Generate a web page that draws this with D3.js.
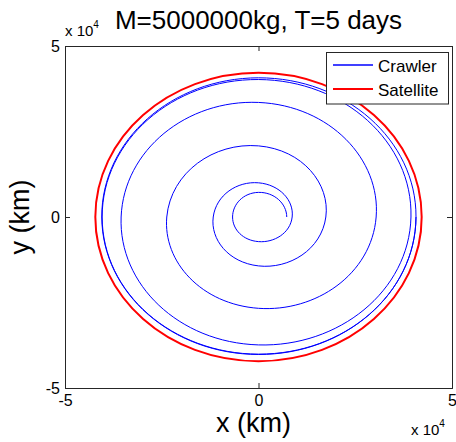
<!DOCTYPE html>
<html>
<head>
<meta charset="utf-8">
<script src="https://cdn.jsdelivr.net/npm/d3@7"></script>
<style>
  body { margin: 0; background: #fff; }
  svg { display: block; }
  text { font-family: "Liberation Sans", Arial, Helvetica, sans-serif; fill: #000; }
</style>
</head>
<body>
<svg id="chart" width="456" height="442"></svg>
<script>
// Axis limits and ticks (km)
const xDomain = [-50000, 50000];
const yDomain = [-50000, 50000];
const xTickValues = [-50000, 0, 50000];
const yTickValues = [-50000, 0, 50000];
const xTickLabels = ["-5", "0", "5"];
const yTickLabels = ["-5", "0", "5"];

// Crawler track: polar samples every quarter turn (angle in degrees, radius in km)
const crawlerAngleDeg = [0, 90, 180, 270, 360, 450, 540, 630, 720, 810, 900, 990,
  1080, 1170, 1260, 1350, 1440, 1530, 1620, 1710, 1800, 1890, 1980, 2070, 2160];
const crawlerRadiusKm = [7300, 7200, 6700, 7200, 8700, 10000, 11700, 14300, 17400, 20800, 23700, 26700,
  30400, 33500, 35500, 37400, 39400, 40200, 40400, 40100, 40700, 40700, 40500, 40200, 40700];

// Satellite orbit: geostationary circle
const satelliteAngleDeg = [0, 90, 180, 270];
const satelliteRadiusKm = [42164, 42164, 42164, 42164];

const seriesNames = ["Crawler", "Satellite"];
const seriesColors = ["#0000ff", "#ff0000"];

const titleText = "M=5000000kg, T=5 days";
const xLabelText = "x (km)";
const yLabelText = "y (km)";

const svg = d3.select("#chart");
const plot = { left: 65, right: 452, top: 46, bottom: 388 };

const x = d3.scaleLinear().domain(xDomain).range([plot.left, plot.right]);
const y = d3.scaleLinear().domain(yDomain).range([plot.bottom, plot.top]);

// Polar Hermite curve: each sample carries its own tangent (radial growth + rotation),
// joined by cubic Béziers mapped through the x/y scales.
function polarPath(anglesDeg, radii, closed) {
  const n = anglesDeg.length;
  const th = anglesDeg.map(a => a * Math.PI / 180);
  const span = closed ? 2 * Math.PI : 0;
  const thAt = i => closed ? th[(i + n) % n] + Math.floor(i / n) * span : th[i];
  const rAt = i => closed ? radii[(i + n) % n] : radii[i];
  const dr = i => {
    if (closed) return (rAt(i + 1) - rAt(i - 1)) / (thAt(i + 1) - thAt(i - 1));
    if (i === 0) return (radii[1] - radii[0]) / (th[1] - th[0]);
    if (i === n - 1) return (radii[n - 1] - radii[n - 2]) / (th[n - 1] - th[n - 2]);
    return (radii[i + 1] - radii[i - 1]) / (th[i + 1] - th[i - 1]);
  };
  const pt = i => [rAt(i) * Math.cos(thAt(i)), rAt(i) * Math.sin(thAt(i))];
  const deriv = i => {
    const t = thAt(i), r = rAt(i), d = dr(i);
    return [d * Math.cos(t) - r * Math.sin(t), d * Math.sin(t) + r * Math.cos(t)];
  };
  const p = d3.path();
  const segs = closed ? n : n - 1;
  const p0 = pt(0);
  p.moveTo(x(p0[0]), y(p0[1]));
  for (let i = 0; i < segs; i++) {
    const a = pt(i), b = pt(i + 1);
    const da = deriv(i), db = deriv(i + 1);
    const dth = thAt(i + 1) - thAt(i);
    const k = (4 / 3) * Math.tan(dth / 4);
    p.bezierCurveTo(
      x(a[0] + k * da[0]), y(a[1] + k * da[1]),
      x(b[0] - k * db[0]), y(b[1] - k * db[1]),
      x(b[0]), y(b[1]));
  }
  if (closed) p.closePath();
  return p.toString();
}

svg.append("clipPath").attr("id", "plotClip").append("rect")
  .attr("x", plot.left).attr("y", plot.top)
  .attr("width", plot.right - plot.left).attr("height", plot.bottom - plot.top);

const g = svg.append("g").attr("clip-path", "url(#plotClip)");

g.append("path")
  .attr("d", polarPath(satelliteAngleDeg, satelliteRadiusKm, true))
  .attr("fill", "none").attr("stroke", seriesColors[1]).attr("stroke-width", 2);

g.append("path")
  .attr("d", polarPath(crawlerAngleDeg, crawlerRadiusKm, false))
  .attr("fill", "none").attr("stroke", seriesColors[0]).attr("stroke-width", 1);

// Axes with inward ticks
const fmtX = d => xTickLabels[xTickValues.indexOf(d)];
const fmtY = d => yTickLabels[yTickValues.indexOf(d)];

const axBottom = svg.append("g").attr("transform", `translate(0,${plot.bottom})`)
  .call(d3.axisBottom(x).tickValues(xTickValues).tickFormat(fmtX).tickSize(-5).tickPadding(7));
const axLeft = svg.append("g").attr("transform", `translate(${plot.left},0)`)
  .call(d3.axisLeft(y).tickValues(yTickValues).tickFormat(fmtY).tickSize(-5).tickPadding(5));
const axTop = svg.append("g").attr("transform", `translate(0,${plot.top})`)
  .call(d3.axisTop(x).tickValues(xTickValues).tickFormat("").tickSize(-5));
const axRight = svg.append("g").attr("transform", `translate(${plot.right},0)`)
  .call(d3.axisRight(y).tickValues(yTickValues).tickFormat("").tickSize(-5));

[axBottom, axLeft, axTop, axRight].forEach(a => {
  a.select(".domain").attr("stroke", "#262626").attr("stroke-width", 1);
  a.selectAll(".tick line").attr("stroke", "#262626");
  a.selectAll(".tick text").attr("font-size", 16)
    .attr("font-family", "Liberation Sans, Arial, sans-serif").attr("fill", "#000");
});

// Exponent multipliers
const expTop = svg.append("text").attr("x", 65).attr("y", 36).attr("font-size", 15);
expTop.append("tspan").text("x 10");
expTop.append("tspan").attr("font-size", 10).attr("dy", -8).text("4");

const expBottom = svg.append("text").attr("x", 411).attr("y", 435).attr("font-size", 15);
expBottom.append("tspan").text("x 10");
expBottom.append("tspan").attr("font-size", 10).attr("dy", -8).text("4");

// Title and axis labels
svg.append("text").attr("x", (plot.left + plot.right) / 2).attr("y", 29)
  .attr("text-anchor", "middle").attr("font-size", 26).text(titleText);
svg.append("text").attr("x", (plot.left + plot.right) / 2 - 5).attr("y", 432)
  .attr("text-anchor", "middle").attr("font-size", 27).text(xLabelText);
svg.append("text").attr("transform", `translate(29,${(plot.top + plot.bottom) / 2}) rotate(-90)`)
  .attr("text-anchor", "middle").attr("font-size", 27).text(yLabelText);

// Legend
const legend = svg.append("g");
legend.append("rect").attr("x", 326.5).attr("y", 52.5).attr("width", 122).attr("height", 51.5)
  .attr("fill", "#fff").attr("stroke", "#262626").attr("stroke-width", 1);
seriesNames.forEach((name, i) => {
  const ly = 65 + i * 24;
  legend.append("line").attr("x1", 333).attr("x2", 373).attr("y1", ly).attr("y2", ly)
    .attr("stroke", seriesColors[i]).attr("stroke-width", i === 1 ? 2 : 1.5);
  legend.append("text").attr("x", 378).attr("y", ly + 6.5).attr("font-size", 17).text(name);
});
</script>
</body>
</html>
